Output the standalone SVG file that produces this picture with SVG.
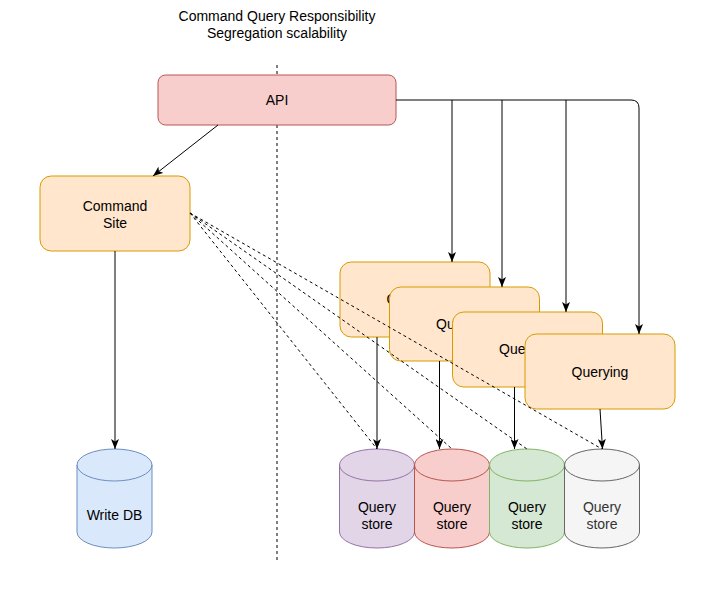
<svg xmlns="http://www.w3.org/2000/svg" width="707" height="589" viewBox="0 0 707 589">
<style>
text{font-family:"Liberation Sans",Arial,sans-serif;font-size:14px;fill:#000;text-anchor:middle}
.q{fill:#ffe6cc;stroke:#d79b00;stroke-width:1}
.c{stroke:#000;stroke-width:1;fill:none}
.a{marker-end:url(#arr)}
.d{stroke-dasharray:3 3}
</style>
<defs>
<marker id="arr" viewBox="0 0 10 8" refX="10" refY="4" markerWidth="10" markerHeight="8" orient="auto" markerUnits="userSpaceOnUse">
<path d="M0,0 L10,4 L0,8 L2.5,4 Z" fill="#000"/>
</marker>
</defs>
<rect width="707" height="589" fill="#fff"/>
<g id="title">
<text x="277" y="21">Command Query Responsibility</text>
<text x="277" y="38">Segregation scalability</text>
</g>
<g id="divider">
<line x1="277" y1="65" x2="277" y2="560" class="c d"/>
</g>
<g id="api">
<rect x="158" y="75" width="238" height="50" rx="7.5" fill="#f8cecc" stroke="#b85450"/>
<text x="277" y="105">API</text>
</g>
<g id="command-site">
<rect x="40" y="176" width="150" height="75" rx="11.25" class="q"/>
<text x="115" y="211">Command</text>
<text x="115" y="228">Site</text>
</g>
<g id="write-db">
<path d="M77,465 A37.5,16 0 0 1 152,465 V532 A37.5,16 0 0 1 77,532 Z" fill="#dae8fc" stroke="#6c8ebf"/>
<path d="M77,465 A37.5,16 0 0 0 152,465" fill="none" stroke="#6c8ebf"/>
<text x="114.5" y="520">Write DB</text>
</g>
<g id="query1">
<rect x="340" y="262" width="150" height="75" rx="11.25" class="q"/>
<text x="415" y="304">Querying</text>
</g>
<g id="query2">
<rect x="389.5" y="287" width="150" height="74" rx="11.25" class="q"/>
<text x="464.5" y="329">Querying</text>
</g>
<g id="query3">
<rect x="452.5" y="312" width="150" height="75" rx="11.25" class="q"/>
<text x="527.5" y="354">Querying</text>
</g>
<g id="query4">
<rect x="525" y="334" width="150" height="75" rx="11.25" class="q"/>
<text x="600" y="377">Querying</text>
</g>
<g id="store1">
<path d="M339.5,465 A37.5,16 0 0 1 414.5,465 V532 A37.5,16 0 0 1 339.5,532 Z" fill="#e1d5e7" stroke="#9673a6"/>
<path d="M339.5,465 A37.5,16 0 0 0 414.5,465" fill="none" stroke="#9673a6"/>
<text x="377" y="512">Query</text>
<text x="377" y="529">store</text>
</g>
<g id="store2">
<path d="M414.5,465 A37.5,16 0 0 1 489.5,465 V532 A37.5,16 0 0 1 414.5,532 Z" fill="#f8cecc" stroke="#b85450"/>
<path d="M414.5,465 A37.5,16 0 0 0 489.5,465" fill="none" stroke="#b85450"/>
<text x="452" y="512">Query</text>
<text x="452" y="529">store</text>
</g>
<g id="store3">
<path d="M489.5,465 A37.5,16 0 0 1 564.5,465 V532 A37.5,16 0 0 1 489.5,532 Z" fill="#d5e8d4" stroke="#82b366"/>
<path d="M489.5,465 A37.5,16 0 0 0 564.5,465" fill="none" stroke="#82b366"/>
<text x="527" y="512">Query</text>
<text x="527" y="529">store</text>
</g>
<g id="store4">
<path d="M564.5,465 A37.5,16 0 0 1 639.5,465 V532 A37.5,16 0 0 1 564.5,532 Z" fill="#f5f5f5" stroke="#666666"/>
<path d="M564.5,465 A37.5,16 0 0 0 639.5,465" fill="none" stroke="#666666"/>
<text x="602" y="512" style="fill:#333333">Query</text>
<text x="602" y="529" style="fill:#333333">store</text>
</g>
<g id="connectors">
<path d="M218,125 L153,176" class="c a"/>
<path d="M115,251 V449" class="c a"/>
<path d="M396,100 H452 V262" class="c a"/>
<path d="M452,100 H502 V287" class="c a"/>
<path d="M502,100 H566 V312" class="c a"/>
<path d="M566,100 H631 Q639,100 639,108 V334" class="c a"/>
<path d="M377,337 V449" class="c a"/>
<path d="M439.5,361 V449" class="c a"/>
<path d="M514.5,387 V449" class="c a"/>
<path d="M600,409 L602.5,449" class="c a"/>
<path d="M190,213 L377,449" class="c d"/>
<path d="M190,213 L452,449" class="c d"/>
<path d="M190,213 L527,449" class="c d"/>
<path d="M190,213 L602,449" class="c d"/>
</g>
</svg>
